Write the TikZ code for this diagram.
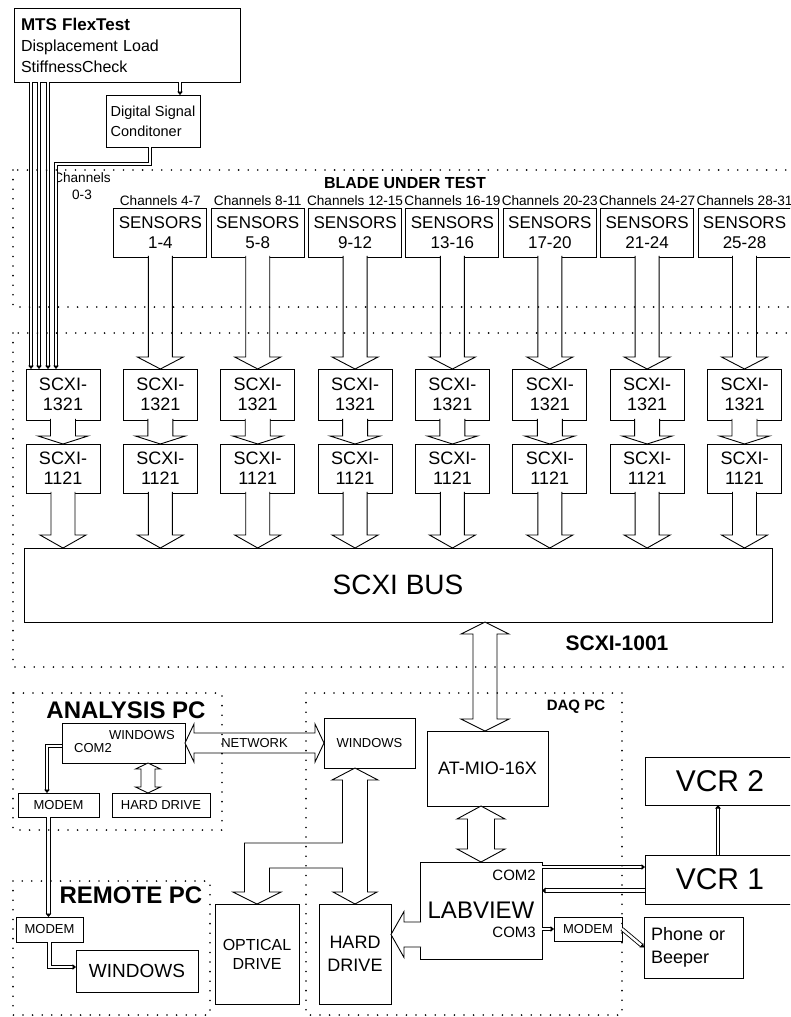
\documentclass[tikz,border=0pt]{standalone}
\usepackage{fontspec}
\setmainfont{Liberation Sans}
\usetikzlibrary{arrows.meta,positioning,calc}

% size of the hollow block arrows: shaft half width, head half width, head length
\newcommand{\fatsize}[3]{\def\fsw{#1}\def\fhw{#2}\def\fhl{#3}}
\fatsize{12pt}{23pt}{12pt}
% one head, pointing down (x taken from the source)
\newcommand{\fatdown}[2]{\filldraw[fat] let \p1=#1, \p2=#2 in
  (\x1-\fsw,\y1) -- (\x1-\fsw,\y2+\fhl) -- (\x1-\fhw,\y2+\fhl) -- (\x1,\y2)
  -- (\x1+\fhw,\y2+\fhl) -- (\x1+\fsw,\y2+\fhl) -- (\x1+\fsw,\y1);}
% one head, pointing left (y taken from the source)
\newcommand{\fatleft}[2]{\filldraw[fat] let \p1=#1, \p2=#2 in
  (\x1,\y1+\fsw) -- (\x2+\fhl,\y1+\fsw) -- (\x2+\fhl,\y1+\fhw) -- (\x2,\y1)
  -- (\x2+\fhl,\y1-\fhw) -- (\x2+\fhl,\y1-\fsw) -- (\x1,\y1-\fsw);}
% two heads, vertical: top point, bottom point
\newcommand{\fatud}[2]{\filldraw[fat] let \p1=#1, \p2=#2 in
  (\x1,\y1) -- (\x1+\fhw,\y1-\fhl) -- (\x1+\fsw,\y1-\fhl) -- (\x1+\fsw,\y2+\fhl)
  -- (\x1+\fhw,\y2+\fhl) -- (\x1,\y2) -- (\x1-\fhw,\y2+\fhl) -- (\x1-\fsw,\y2+\fhl)
  -- (\x1-\fsw,\y1-\fhl) -- (\x1-\fhw,\y1-\fhl) -- cycle;}
% two heads, horizontal: left point, right point
\newcommand{\fatlr}[2]{\filldraw[fat] let \p1=#1, \p2=#2 in
  (\x1,\y1) -- (\x1+\fhl,\y1+\fhw) -- (\x1+\fhl,\y1+\fsw) -- (\x2-\fhl,\y1+\fsw)
  -- (\x2-\fhl,\y1+\fhw) -- (\x2,\y1) -- (\x2-\fhl,\y1-\fhw) -- (\x2-\fhl,\y1-\fsw)
  -- (\x1+\fhl,\y1-\fsw) -- (\x1+\fhl,\y1-\fhw) -- cycle;}

\begin{document}
\begin{tikzpicture}[x=1pt,y=-1pt,
    box/.style={draw,line width=0.9pt,fill=white,inner sep=0pt,outer sep=0pt,align=center},
    mod/.style={box,minimum width=74pt,font=\fontsize{18}{20}\selectfont},
    sens/.style={box,minimum width=93pt,minimum height=49pt,font=\fontsize{17}{20}\selectfont},
    chan/.style={inner sep=0pt,align=center,font=\fontsize{13.6}{17}\selectfont},
    small/.style={inner sep=0pt,font=\fontsize{13}{15}\selectfont},
    title/.style={inner sep=0pt,font=\bfseries\fontsize{24}{28}\selectfont},
    fat/.style={line width=0.9pt,fill=white,line join=miter},
    wire/.style={line width=0.85pt,double distance=2.4pt,-{Triangle[length=3.5pt,width=5.5pt]}},
    dots/.style={line width=1.8pt,line cap=round,dash pattern=on 0pt off 9.6pt}
  ]
    \useasboundingbox (0,0) rectangle (790,1017);
    \fill[white] (0,0) rectangle (790,1017);
    \clip (0,0) rectangle (790,1017);

    % test machine
    \node[box,minimum width=226pt,minimum height=74pt,text width=212pt,align=left,
      font=\fontsize{16}{21}\selectfont] (mts) at (127,45)
      {{\bfseries\fontsize{17}{21}\selectfont MTS FlexTest}\\Displacement Load\\StiffnessCheck};
    \node[box,minimum width=94pt,minimum height=52pt,align=left,
      font=\fontsize{14.5}{20}\selectfont] (dsc) at (153,121) {Digital Signal\\Conditoner};
    \node[chan] (ch1) at (82,186) {Channels\\0-3};

    % signal conditioning modules
    \node[mod,minimum height=51pt] (a1) at (63,394.5) {SCXI-\\1321};
    \node[mod,minimum height=51pt,right=23.36pt of a1] (a2) {SCXI-\\1321};
    \node[mod,minimum height=51pt,right=23.36pt of a2] (a3) {SCXI-\\1321};
    \node[mod,minimum height=51pt,right=23.36pt of a3] (a4) {SCXI-\\1321};
    \node[mod,minimum height=51pt,right=23.36pt of a4] (a5) {SCXI-\\1321};
    \node[mod,minimum height=51pt,right=23.36pt of a5] (a6) {SCXI-\\1321};
    \node[mod,minimum height=51pt,right=23.36pt of a6] (a7) {SCXI-\\1321};
    \node[mod,minimum height=51pt,right=23.36pt of a7] (a8) {SCXI-\\1321};
    \node[mod,minimum height=49pt,below=24pt of a1] (b1) {SCXI-\\1121};
    \node[mod,minimum height=49pt,below=24pt of a2] (b2) {SCXI-\\1121};
    \node[mod,minimum height=49pt,below=24pt of a3] (b3) {SCXI-\\1121};
    \node[mod,minimum height=49pt,below=24pt of a4] (b4) {SCXI-\\1121};
    \node[mod,minimum height=49pt,below=24pt of a5] (b5) {SCXI-\\1121};
    \node[mod,minimum height=49pt,below=24pt of a6] (b6) {SCXI-\\1121};
    \node[mod,minimum height=49pt,below=24pt of a7] (b7) {SCXI-\\1121};
    \node[mod,minimum height=49pt,below=24pt of a8] (b8) {SCXI-\\1121};

    % sensors on the blade
    \node[sens,above=112pt of a2] (s2) {SENSORS\\1-4};
    \node[sens,above=112pt of a3] (s3) {SENSORS\\5-8};
    \node[sens,above=112pt of a4] (s4) {SENSORS\\9-12};
    \node[sens,above=112pt of a5] (s5) {SENSORS\\13-16};
    \node[sens,above=112pt of a6] (s6) {SENSORS\\17-20};
    \node[sens,above=112pt of a7] (s7) {SENSORS\\21-24};
    \node[sens,above=112pt of a8] (s8) {SENSORS\\25-28};
    \node[chan,above=2pt of s2] (ch2) {Channels 4-7};
    \node[chan,above=2pt of s3] (ch3) {Channels 8-11};
    \node[chan,above=2pt of s4] (ch4) {Channels 12-15};
    \node[chan,above=2pt of s5] (ch5) {Channels 16-19};
    \node[chan,above=2pt of s6] (ch6) {Channels 20-23};
    \node[chan,above=2pt of s7] (ch7) {Channels 24-27};
    \node[chan,above=2pt of s8] (ch8) {Channels 28-31};
    \node[inner sep=0pt,font=\bfseries\fontsize{16}{18}\selectfont] (blade) at (405,183) {BLADE UNDER TEST};

    \node[box,minimum width=748pt,minimum height=74pt,font=\fontsize{28}{30}\selectfont] (bus) at (398,585) {SCXI BUS};
    \node[inner sep=0pt,font=\bfseries\fontsize{21}{23}\selectfont] (chassis) at (617,643) {SCXI-1001};

    % analysis pc
    \node[title] (anat) at (126,710) {ANALYSIS PC};
    \node[box,minimum width=123pt,minimum height=40pt] (anawin) at (123.5,743) {};
    \node[small,below left=7pt and 10pt of anawin.north east] (anawint) {WINDOWS};
    \node[small,anchor=west] (anacom) at ([xshift=12pt,yshift=-5pt]anawin.west) {COM2};
    \node[box,small,minimum width=81pt,minimum height=24pt] (amodem) at (58.5,805) {MODEM};
    \node[box,small,minimum width=98pt,minimum height=24pt] (ahdd) at (161,805) {HARD DRIVE};

    % remote pc
    \node[title] (remt) at (131,895) {REMOTE PC};
    \node[box,small,minimum width=67pt,minimum height=25pt] (rmodem) at (49.5,929.5) {MODEM};
    \node[box,minimum width=122pt,minimum height=42pt,font=\fontsize{19}{22}\selectfont] (rwin) at (137,971) {WINDOWS};

    % daq pc
    \node[inner sep=0pt,font=\bfseries\fontsize{15}{18}\selectfont] (daqt) at (576,707) {DAQ PC};
    \node[box,small,minimum width=91pt,minimum height=50pt] (dwin) at (369.5,743) {WINDOWS};
    \node[box,minimum width=121pt,minimum height=75pt,font=\fontsize{18}{20}\selectfont] (atmio) at (487.5,768.5) {AT-MIO-16X};
    \node[box,minimum width=122pt,minimum height=97pt,font=\fontsize{24}{26}\selectfont] (lab) at (481,910.5) {LABVIEW};
    \node[inner sep=0pt,anchor=east,font=\fontsize{15}{17}\selectfont] (com2) at ([xshift=-6pt,yshift=35.5pt]lab.east) {COM2};
    \node[inner sep=0pt,anchor=east,font=\fontsize{15}{17}\selectfont] (com3) at ([xshift=-6pt,yshift=-21.5pt]lab.east) {COM3};
    \node[box,small,minimum width=68pt,minimum height=24pt] (dmodem) at (588,929) {MODEM};
    \node[box,minimum width=84pt,minimum height=100pt,font=\fontsize{16}{19}\selectfont] (optic) at (257,954) {OPTICAL\\DRIVE};
    \node[box,minimum width=72pt,minimum height=100pt,font=\fontsize{18}{23}\selectfont] (hdd) at (355,954) {HARD\\DRIVE};
    \node[box,minimum width=150pt,minimum height=48pt,font=\fontsize{30}{32}\selectfont] (vcr2) at (720,781) {VCR 2};
    \node[box,minimum width=150pt,minimum height=49pt,font=\fontsize{30}{32}\selectfont] (vcr1) at (720,879.5) {VCR 1};
    \node[box,minimum width=99pt,minimum height=61pt,text width=85pt,align=left,
      font=\fontsize{18}{23}\selectfont] (phone) at (693.5,947.5) {Phone or\\Beeper};

    % block arrows
    \foreach \i in {2,...,8}{\fatdown{([yshift=1.2pt]s\i.south)}{(a\i.north)}}
    \fatsize{12.5pt}{25pt}{8pt}
    \foreach \i in {1,...,8}{\fatdown{([yshift=1.2pt]a\i.south)}{(b\i.north)}}
    \fatsize{12pt}{23pt}{13pt}
    \foreach \i in {1,...,8}{\fatdown{([yshift=1.2pt]b\i.south)}{(b\i.south |- bus.north)}}
    \coordinate (bt) at ([xshift=-2.5pt]atmio.north);
    \fatsize{12pt}{24pt}{12pt}
    \fatud{(bt |- bus.south)}{(bt)}
    \fatsize{13.5pt}{24pt}{13pt}
    \fatud{(lab.north |- atmio.south)}{(lab.north)}
    \fatsize{12.5pt}{23pt}{13pt}
    \fatleft{([xshift=1.2pt,yshift=-24pt]lab.west)}{(hdd.east)}
    \fatsize{10pt}{19pt}{9pt}
    \fatlr{(anawin.east)}{(dwin.west)}
    \node[small] (net) at ($(anawin.east)!0.5!(dwin.west)$) {NETWORK};
    \coordinate (ah) at ([xshift=-13pt]ahdd.north);
    \fatsize{7pt}{12.5pt}{6pt}
    \fatud{(ah |- anawin.south)}{(ah)}
    % windows to both drives
    \filldraw[fat] let \p1=([xshift=-14.5pt]dwin.south), \p2=(optic.north), \p3=(hdd.north) in
      (\x1,\y1) -- (\x1+23pt,\y1-12pt) -- (\x1+12.5pt,\y1-12pt) -- (\x1+12.5pt,\y3+12pt)
      -- (\x1+22pt,\y3+12pt) -- (\x1,\y3) -- (\x1-22pt,\y3+12pt) -- (\x1-12.5pt,\y3+12pt)
      -- (\x1-12.5pt,\y3+36pt) -- (\x2+12.5pt,\y3+36pt) -- (\x2+12.5pt,\y2+12pt)
      -- (\x2+24pt,\y2+12pt) -- (\x2,\y2) -- (\x2-24pt,\y2+12pt) -- (\x2-12.5pt,\y2+12pt)
      -- (\x2-12.5pt,\y3+61pt) -- (\x1-12.5pt,\y3+61pt) -- (\x1-12.5pt,\y1-12pt)
      -- (\x1-23pt,\y1-12pt) -- cycle;

    % cables
    \foreach \d in {17,25,34}
      \draw[wire] ([xshift=\d pt]mts.south west) -- ([xshift=\d pt]mts.south west |- a1.north);
    \draw[wire] ([xshift=-3pt]dsc.south) -- ++(0,17) -| ([xshift=30pt]a1.north west);
    \draw[wire] ([xshift=53pt]mts.south) -- ([xshift=53pt]mts.south |- dsc.north);
    \draw[wire] ([yshift=-3pt]anawin.west) -| ([xshift=-11.5pt]amodem.north);
    \draw[wire] ([xshift=-10pt]amodem.south) -- ([xshift=-10pt]amodem.south |- rmodem.north);
    \draw[wire] (rmodem.south) |- ([yshift=4pt]rwin.west);
    \draw[wire] ([xshift=-2pt]vcr1.north) -- ([xshift=-2pt]vcr2.south);
    \coordinate (v1a) at ([yshift=12.5pt]vcr1.west);
    \coordinate (v1b) at ([yshift=-11pt]vcr1.west);
    \draw[wire] (v1a -| lab.east) -- (v1a);
    \draw[wire] (v1b) -- (v1b -| lab.east);
    \draw[wire] (dmodem.west -| lab.east) -- (dmodem.west);
    \draw[wire] (dmodem.east) -- (phone.west);

    % dotted frames
    \draw[dots] (13,170) rectangle (800,307);
    \draw[dots] (13,333) rectangle (800,667);
    \draw[dots] (13,693) rectangle (222,830);
    \draw[dots] (13,881) rectangle (210,1015);
    \draw[dots] (306,693) rectangle (622,1015);
  \end{tikzpicture}
\end{document}
